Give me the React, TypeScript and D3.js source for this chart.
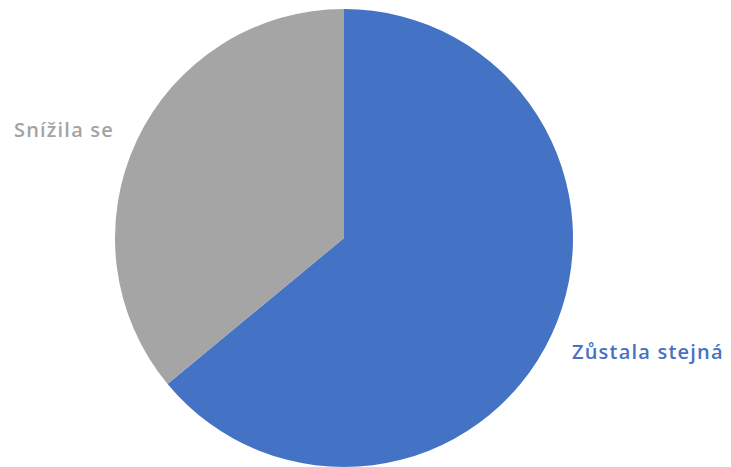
import { useMemo } from "react";
import * as d3 from "d3";

const categories = ["Zůstala stejná", "Snížila se"];
const values = [64, 36];
const colors = ["#4472c4", "#a5a5a5"];
const labelColors = ["#4472c4", "#a3a3a3"];

const width = 731;
const height = 467;

export default function App() {
  const cx = 344;
  const cy = 238;
  const radius = 229;

  const arcs = useMemo(() => {
    const pie = d3.pie<number>().sort(null).value((d) => d);
    return pie(values);
  }, []);

  const arc = d3.arc<d3.PieArcDatum<number>>().innerRadius(0).outerRadius(radius);

  // labels sit outside the pie, next to their slice
  const labelPos = [
    { x: 572, y: 359, anchor: "start" },
    { x: 114, y: 137, anchor: "end" },
  ];

  return (
    <svg
      width={width}
      height={height}
      style={{ position: "fixed", left: 0, top: 0, background: "#fff" }}
      fontFamily="'Open Sans', 'DejaVu Sans', sans-serif"
    >
      <g transform={`translate(${cx},${cy})`}>
        {arcs.map((a, i) => (
          <path key={i} d={arc(a) || ""} fill={colors[i]} />
        ))}
      </g>
      {arcs.map((a, i) => (
        <text
          key={i}
          x={labelPos[i].x}
          y={labelPos[i].y}
          textAnchor={labelPos[i].anchor as any}
          fill={labelColors[i]}
          fontSize={20}
          fontWeight={600}
          letterSpacing={1.2}
        >
          {categories[i]}
        </text>
      ))}
    </svg>
  );
}
